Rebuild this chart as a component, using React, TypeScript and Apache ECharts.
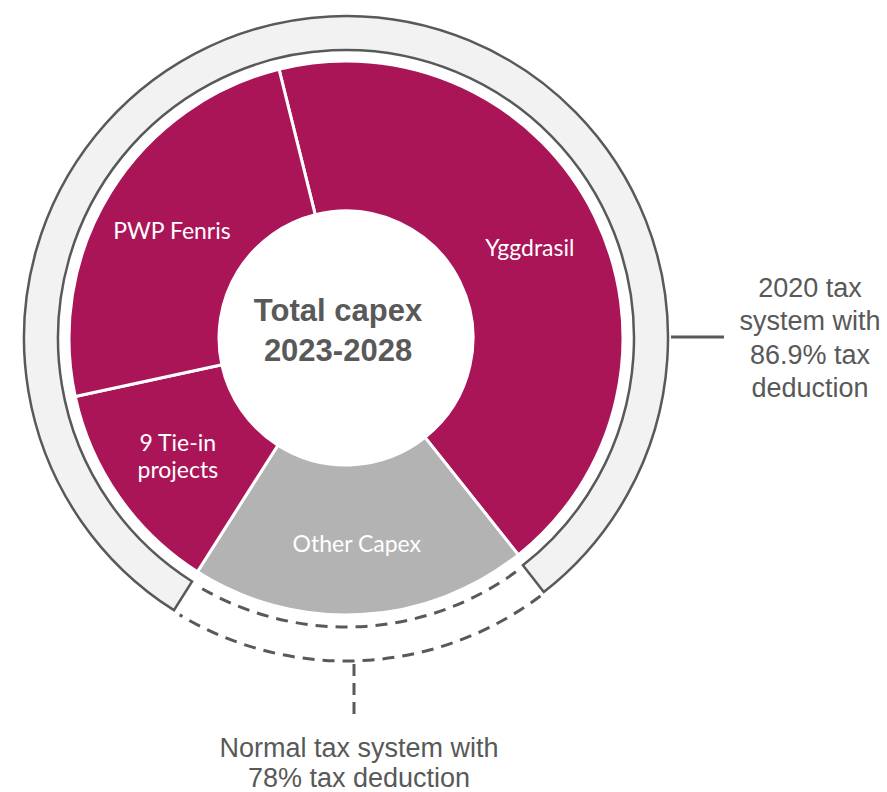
import { useEffect, useRef } from "react";
import * as echarts from "echarts";

const categories = ["Yggdrasil", "Other Capex", "9 Tie-in\nprojects", "PWP Fenris"];
const shares = [43.2, 19.7, 12.6, 24.5];
const sliceColors = ["#AA1558", "#B3B3B3", "#AA1558", "#AA1558"];
const centerLines = ["Total capex", "2023-2028"];
const rightNote = ["2020 tax", "system with", "86.9% tax", "deduction"];
const bottomNote = ["Normal tax system with", "78% tax deduction"];

const CX = 346;
const CY = 338;
const DEG = Math.PI / 180;
const GREY = "#595959";

export default function App() {
  const ref = useRef<HTMLDivElement>(null);
  useEffect(() => {
    if (!ref.current) return;
    const chart = echarts.init(ref.current, null, { renderer: "svg" });
    const bottomY = [748, 778];
    chart.setOption({
      animation: false,
      backgroundColor: "#ffffff",
      series: [
        {
          type: "pie",
          center: [CX, CY],
          radius: [127, 277],
          startAngle: 104,
          clockwise: true,
          silent: true,
          label: {
            show: true,
            position: "inside",
            color: "#ffffff",
            fontFamily: "Lato",
            fontSize: 23,
            lineHeight: 27,
            formatter: "{b}",
          },
          labelLine: { show: false },
          itemStyle: { borderColor: "#ffffff", borderWidth: 3 },
          emphasis: { disabled: true },
          data: categories.map((c, i) => ({
            name: c,
            value: shares[i],
            itemStyle: { color: sliceColors[i] },
          })),
        },
      ],
      graphic: [
        {
          type: "sector",
          silent: true,
          shape: {
            cx: CX,
            cy: CY,
            r0: 288,
            r: 322,
            startAngle: 122.3 * DEG,
            endAngle: (360 + 52.1) * DEG,
            clockwise: true,
          },
          style: { fill: "#F2F2F2", stroke: GREY, lineWidth: 2.5 },
        },
        {
          type: "arc",
          silent: true,
          shape: { cx: CX, cy: CY, r: 289, startAngle: 54 * DEG, endAngle: 120.5 * DEG, clockwise: true },
          style: { stroke: GREY, lineWidth: 3, lineDash: [12, 8], fill: null },
        },
        {
          type: "arc",
          silent: true,
          shape: { cx: CX, cy: CY, r: 323, startAngle: 53 * DEG, endAngle: 121 * DEG, clockwise: true },
          style: { stroke: GREY, lineWidth: 3, lineDash: [12, 8], fill: null },
        },
        {
          type: "line",
          silent: true,
          shape: { x1: 354, y1: 664, x2: 354, y2: 718 },
          style: { stroke: GREY, lineWidth: 3, lineDash: [12, 7] },
        },
        {
          type: "line",
          silent: true,
          shape: { x1: 671, y1: 337, x2: 724, y2: 337 },
          style: { stroke: GREY, lineWidth: 3 },
        },
        {
          type: "text",
          silent: true,
          style: {
            text: centerLines.join("\n"),
            x: 338,
            y: 330,
            fill: GREY,
            font: "bold 31px 'Liberation Sans', Arial, sans-serif",
            textAlign: "center",
            textVerticalAlign: "middle",
            lineHeight: 40,
          },
        },
        {
          type: "text",
          silent: true,
          style: {
            text: rightNote.join("\n"),
            x: 810,
            y: 338,
            fill: GREY,
            font: "27px 'Liberation Sans', Arial, sans-serif",
            textAlign: "center",
            textVerticalAlign: "middle",
            lineHeight: 33.5,
          },
        },
        ...bottomNote.map((t, i) => ({
          type: "text",
          silent: true,
          style: {
            text: t,
            x: 359,
            y: bottomY[i],
            fill: GREY,
            font: "27px 'Liberation Sans', Arial, sans-serif",
            textAlign: "center",
            textVerticalAlign: "middle",
          },
        })),
      ],
    });
    return () => chart.dispose();
  }, []);
  return (
    <div
      ref={ref}
      style={{ position: "absolute", left: 0, top: 0, width: 887, height: 792 }}
    />
  );
}
